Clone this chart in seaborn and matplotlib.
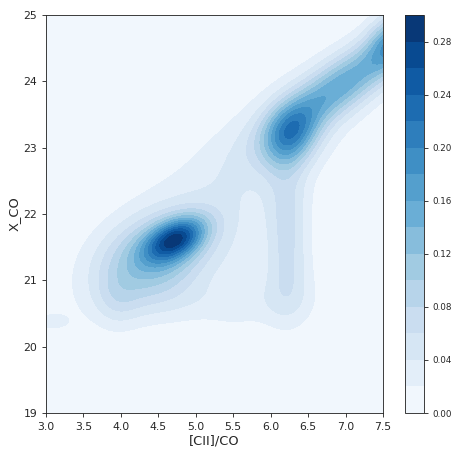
import numpy as np
import matplotlib
matplotlib.use('Agg')
import matplotlib.pyplot as plt
import seaborn as sns

# Density blobs: centre, long/short spread, tilt (deg) and peak height
blob_x = [4.74, 4.44, 3.95, 6.27, 6.95, 7.62, 6.22, 6.22, 5.50, 5.25, 5.55, 3.08]
blob_y = [21.63, 21.32, 20.70, 23.18, 23.95, 24.60, 21.90, 20.90, 22.55, 20.65, 21.20, 20.38]
blob_long = [0.30, 0.55, 0.30, 0.34, 0.80, 0.30, 0.70, 0.45, 1.60, 0.85, 0.90, 0.18]
blob_short = [0.18, 0.41, 0.20, 0.24, 0.25, 0.20, 0.20, 0.25, 0.55, 0.25, 0.25, 0.10]
blob_angle = [33, 32, 90, 70, 40, 70, 90, 90, 45, 0, 90, 0]
blob_peak = [0.185, 0.117, 0.025, 0.135, 0.14, 0.11, 0.058, 0.035, 0.034, 0.022, 0.011, 0.023]

levels = np.arange(0, 0.31, 0.02)
x_range = (3.0, 7.5)
y_range = (19, 25)

sns.set_style('ticks')

xx, yy = np.meshgrid(np.linspace(*x_range, 300), np.linspace(*y_range, 300))
zz = np.zeros_like(xx)
for cx, cy, sl, ss, a, p in zip(blob_x, blob_y, blob_long, blob_short, blob_angle, blob_peak):
    t = np.deg2rad(a)
    u = ((xx - cx) * np.cos(t) + (yy - cy) * np.sin(t)) / sl
    v = (-(xx - cx) * np.sin(t) + (yy - cy) * np.cos(t)) / ss
    zz += p * np.exp(-0.5 * (u ** 2 + v ** 2))

fig = plt.figure(figsize=(4.71, 4.71), dpi=100)
ax = fig.add_axes([0.0977, 0.1231, 0.7155, 0.845])
cax = fig.add_axes([0.8599, 0.1231, 0.0403, 0.845])

cmap = sns.color_palette('Blues', as_cmap=True)
cs = ax.contourf(xx, yy, zz, levels=levels, cmap=cmap)
cb = fig.colorbar(cs, cax=cax)
cb.set_ticks(np.arange(0, 0.29, 0.04))
cb.ax.tick_params(labelsize=6.3, width=0.63, length=2.75)
cb.outline.set_linewidth(0.63)

ax.set_xlim(*x_range)
ax.set_ylim(*y_range)
ax.set_xlabel('[CII]/CO', fontsize=9.4, labelpad=2)
ax.set_ylabel('X_CO', fontsize=9.4, labelpad=2)
ax.tick_params(labelsize=7.85, width=0.63, length=2.75)
for s in ax.spines.values():
    s.set_linewidth(0.63)

fig.savefig('out.png', dpi=100)
